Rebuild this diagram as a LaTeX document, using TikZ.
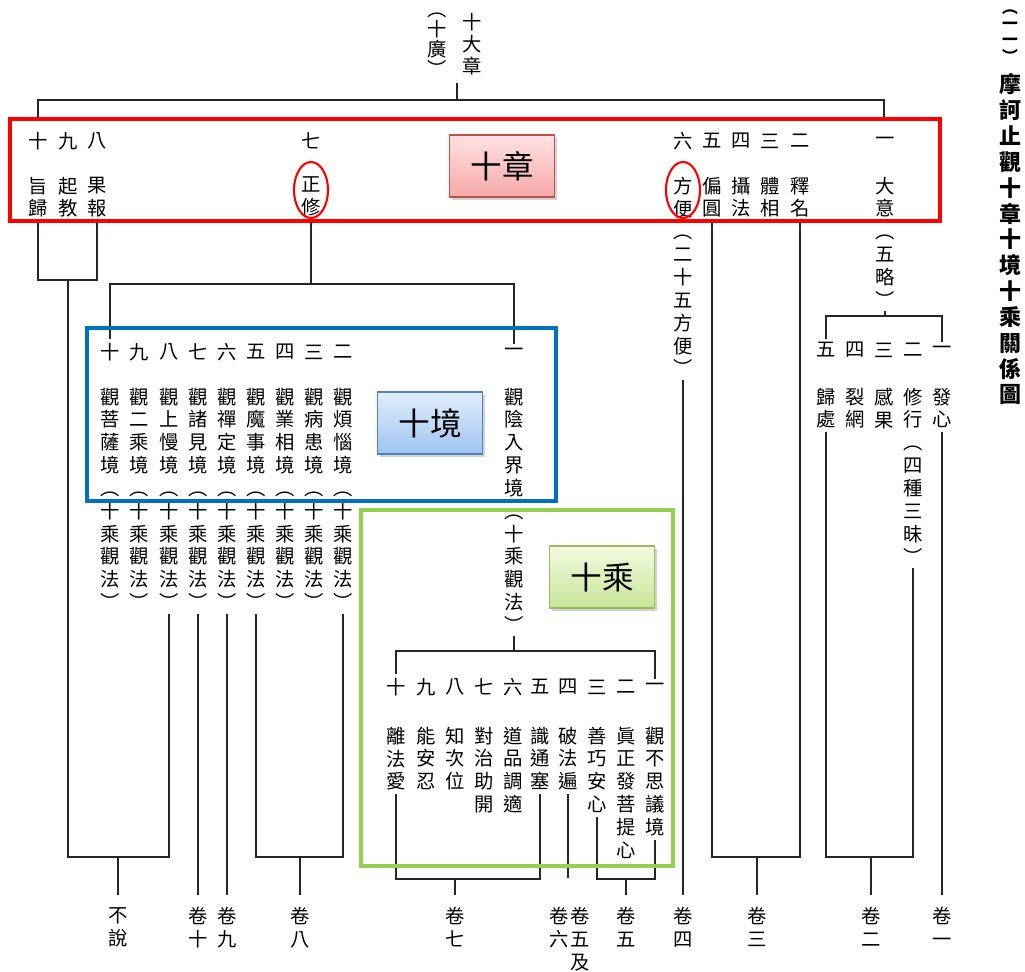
\documentclass[tikz,border=0pt]{standalone}
\usepackage{fontspec}
\setmainfont{Noto Sans CJK TC}
\usetikzlibrary{shadows}

% stack the characters of a word one under the other
\makeatletter
\newcommand\vtext[1]{\vbox{\lineskiplimit=-\maxdimen\@tfor\vt@c:=#1\do{\hbox to 1em{\hss\vt@c\hss}}}}
\makeatother

\definecolor{frameblue}{HTML}{0070C0}
\definecolor{framegreen}{HTML}{92D050}
\definecolor{tagredline}{HTML}{C0504D}
\definecolor{tagredtop}{HTML}{FFE2E2}
\definecolor{tagredbot}{HTML}{F6A8A8}
\definecolor{tagblueline}{HTML}{4F81BD}
\definecolor{tagbluetop}{HTML}{E2EEFC}
\definecolor{tagbluebot}{HTML}{9EC3F0}
\definecolor{taggreenline}{HTML}{9BBB59}
\definecolor{taggreentop}{HTML}{F2F9E0}
\definecolor{taggreenbot}{HTML}{C8E597}

\begin{document}
\begin{tikzpicture}[x=0.02cm, y=-0.02cm,
        vcol/.style={anchor=north, inner sep=2pt, font=\fontsize{11}{13}\selectfont},
        num/.style={inner sep=2pt, font=\fontsize{11}{13}\selectfont},
        vol/.style={vcol, outer sep=5pt},
        conn/.style={line width=0.75pt, black!85},
        hlframe/.style={line width=2.3pt},
        markbox/.style={rectangle, draw, line width=0.8pt, minimum width=2.1cm,
                    minimum height=1.24cm, font=\fontsize{18}{20}\selectfont,
                    drop shadow={opacity=0.35, shadow xshift=1.2pt, shadow yshift=-1.5pt}}
    ]
    \useasboundingbox (0,0) rectangle (1025,971);

    % title
    \node[vcol, font=\fontsize{9}{9.2}\selectfont\bfseries] (fignum) at (1010,6) {\vtext{︵一一︶}};
    \node[vcol, font=\fontsize{12.5}{14.7}\selectfont\bfseries] (title) at (1010,70) {\vtext{摩訶止觀十章十境十乘關係圖}};

    % top
    \node[vcol, font=\fontsize{11}{12.5}\selectfont] (tenbig) at (472,9) {\vtext{十大章}};
    \node[vcol, font=\fontsize{11}{11.3}\selectfont] (tenwide) at (437,9) {\vtext{︵十廣︶}};

    % ten chapters
    \node[num] (cn10) at (38,141) {十};
    \node[num] (cn9) at (68,141) {九};
    \node[num] (cn8) at (97,141) {八};
    \node[num] (cn7) at (311,141) {七};
    \node[num] (cn6) at (683,141) {六};
    \node[num] (cn5) at (712,141) {五};
    \node[num] (cn4) at (741,141) {四};
    \node[num] (cn3) at (770,141) {三};
    \node[num] (cn2) at (800,141) {二};
    \node[num] (cn1) at (885,141) {一};
    \node[vcol] (ct10) at (38,173) {\vtext{旨歸}};
    \node[vcol] (ct9) at (68,173) {\vtext{起教}};
    \node[vcol] (ct8) at (97,173) {\vtext{果報}};
    \node[vcol] (ct7) at (311,173) {\vtext{正修}};
    \node[vcol] (ct6) at (683,173) {\vtext{方便︵二十五方便︶}};
    \node[vcol] (ct5) at (712,173) {\vtext{偏圓}};
    \node[vcol] (ct4) at (741,173) {\vtext{攝法}};
    \node[vcol] (ct3) at (770,173) {\vtext{體相}};
    \node[vcol] (ct2) at (800,173) {\vtext{釋名}};
    \node[vcol] (ct1) at (885,173) {\vtext{大意︵五略︶}};

    % ten objects
    \node[num] (gn10) at (110,352) {十};
    \node[num] (gn9) at (139,352) {九};
    \node[num] (gn8) at (169,352) {八};
    \node[num] (gn7) at (198,352) {七};
    \node[num] (gn6) at (227,352) {六};
    \node[num] (gn5) at (256,352) {五};
    \node[num] (gn4) at (285,352) {四};
    \node[num] (gn3) at (314,352) {三};
    \node[num] (gn2) at (343,352) {二};
    \node[num] (gn1) at (514,352) {一};
    \node[vcol] (jg10) at (110,384) {\vtext{觀菩薩境︵十乘觀法︶}};
    \node[vcol] (jg9) at (139,384) {\vtext{觀二乘境︵十乘觀法︶}};
    \node[vcol] (jg8) at (169,384) {\vtext{觀上慢境︵十乘觀法︶}};
    \node[vcol] (jg7) at (198,384) {\vtext{觀諸見境︵十乘觀法︶}};
    \node[vcol] (jg6) at (227,384) {\vtext{觀禪定境︵十乘觀法︶}};
    \node[vcol] (jg5) at (256,384) {\vtext{觀魔事境︵十乘觀法︶}};
    \node[vcol] (jg4) at (285,384) {\vtext{觀業相境︵十乘觀法︶}};
    \node[vcol] (jg3) at (314,384) {\vtext{觀病患境︵十乘觀法︶}};
    \node[vcol] (jg2) at (343,384) {\vtext{觀煩惱境︵十乘觀法︶}};
    \node[vcol] (jg1) at (514,384) {\vtext{觀陰入界境︵十乘觀法︶}};

    % five outlines
    \node[num] (ln5) at (826,350) {五};
    \node[num] (ln4) at (855,350) {四};
    \node[num] (ln3) at (884,350) {三};
    \node[num] (ln2) at (913,350) {二};
    \node[num] (ln1) at (942,350) {一};
    \node[vcol] (lt5) at (826,384) {\vtext{歸處}};
    \node[vcol] (lt4) at (855,384) {\vtext{裂網}};
    \node[vcol] (lt3) at (884,384) {\vtext{感果}};
    \node[vcol] (lt2) at (913,384) {\vtext{修行︵四種三昧︶}};
    \node[vcol] (lt1) at (942,384) {\vtext{發心}};

    % ten vehicles
    \node[num] (sn10) at (396,687) {十};
    \node[num] (sn9) at (426,687) {九};
    \node[num] (sn8) at (455,687) {八};
    \node[num] (sn7) at (484,687) {七};
    \node[num] (sn6) at (513,687) {六};
    \node[num] (sn5) at (540,687) {五};
    \node[num] (sn4) at (568,687) {四};
    \node[num] (sn3) at (597,687) {三};
    \node[num] (sn2) at (626,687) {二};
    \node[num] (sn1) at (655,687) {一};
    \node[vcol] (cs10) at (396,723) {\vtext{離法愛}};
    \node[vcol] (cs9) at (426,723) {\vtext{能安忍}};
    \node[vcol] (cs8) at (455,723) {\vtext{知次位}};
    \node[vcol] (cs7) at (484,723) {\vtext{對治助開}};
    \node[vcol] (cs6) at (513,723) {\vtext{道品調適}};
    \node[vcol] (cs5) at (540,723) {\vtext{識通塞}};
    \node[vcol] (cs4) at (568,723) {\vtext{破法遍}};
    \node[vcol] (cs3) at (597,723) {\vtext{善巧安心}};
    \node[vcol] (cs2) at (626,723) {\vtext{眞正發菩提心}};
    \node[vcol] (cs1) at (655,723) {\vtext{觀不思議境}};

    % volumes
    \node[vol] (v0) at (118,895) {\vtext{不說}};
    \node[vol] (v10) at (198,895) {\vtext{卷十}};
    \node[vol] (v9) at (227,895) {\vtext{卷九}};
    \node[vol] (v8) at (300,895) {\vtext{卷八}};
    \node[vol] (v7) at (455,895) {\vtext{卷七}};
    \node[vol] (v6a) at (559,895) {\vtext{卷六}};
    \node[vol] (v6b) at (580,895) {\vtext{卷五及}};
    \node[vol] (v5) at (626,895) {\vtext{卷五}};
    \node[vol] (v4) at (683,895) {\vtext{卷四}};
    \node[vol] (v3) at (757,895) {\vtext{卷三}};
    \node[vol] (v2) at (871,895) {\vtext{卷二}};
    \node[vol] (v1) at (942,895) {\vtext{卷一}};

    % joints
    \coordinate (topc) at (457,83);
    \coordinate (bar) at (457,100);
    \coordinate (tl) at (38,119);
    \coordinate (tr) at (884,119);
    \coordinate (ja) at (68,280);
    \coordinate (jb) at (118,857);
    \coordinate (jc) at (311,284);
    \coordinate (jd) at (300,857);
    \coordinate (je) at (514,651);
    \coordinate (jf) at (455,879);
    \coordinate (jfree) at (568,878);
    \coordinate (jh) at (626,879);
    \coordinate (ji) at (757,857);
    \coordinate (jj) at (885,316);
    \coordinate (jk) at (871,857);

    \draw[conn] (topc) -- (bar);
    \draw[conn] (tl) |- (bar) -| (tr);
    \draw[conn] (ct10.south) |- (ja) -| (ct8.south);
    \draw[conn] (ja) |- (jb) -| (jg8.south);
    \draw[conn] (jb) -- (v0.north);
    \draw[conn] (ct7.south) -- (jc);
    \draw[conn] (gn10.north) |- (jc) -| (gn1.north);
    \draw[conn] (jg7.south) -- (v10.north);
    \draw[conn] (jg6.south) -- (v9.north);
    \draw[conn] (jg5.south) |- (jd) -| (jg2.south);
    \draw[conn] (jd) -- (v8.north);
    \draw[conn] (jg1.south) -- (je);
    \draw[conn] (sn10.north) |- (je) -| (sn1.north);
    \draw[conn] (cs10.south) |- (jf) -| (cs5.south);
    \draw[conn] (jf) -- (v7.north);
    \draw[conn] (cs4.south) -- (jfree);
    \draw[conn] (cs3.south) |- (jh) -| (cs1.south);
    \draw[conn] (jh) -- (v5.north);
    \draw[conn] (ct6.south) -- (v4.north);
    \draw[conn] (ct5.south) |- (ji) -| (ct2.south);
    \draw[conn] (ji) -- (v3.north);
    \draw[conn] (ct1.south) -- (jj);
    \draw[conn] (ln5.north) |- (jj) -| (ln1.north);
    \draw[conn] (lt5.south) |- (jk) -| (lt2.south);
    \draw[conn] (jk) -- (v2.north);
    \draw[conn] (lt1.south) -- (v1.north);

    % highlights
    \draw[hlframe, red] (10,119) rectangle (940,221);
    \draw[hlframe, frameblue] (87,328) rectangle (556,501);
    \draw[hlframe, framegreen] (361,510) rectangle (673,866);
    \draw[red, line width=1.2pt] (311,190) ellipse [x radius=0.34cm, y radius=0.56cm];
    \draw[red, line width=1.2pt] (683,190) ellipse [x radius=0.34cm, y radius=0.56cm];

    \node[markbox, draw=tagredline, top color=tagredtop, bottom color=tagredbot] (tagzhang) at (502,166) {十章};
    \node[markbox, draw=tagblueline, top color=tagbluetop, bottom color=tagbluebot] (tagjing) at (430,423) {十境};
    \node[markbox, draw=taggreenline, top color=taggreentop, bottom color=taggreenbot] (tagcheng) at (602,577) {十乘};
\end{tikzpicture}
\end{document}
